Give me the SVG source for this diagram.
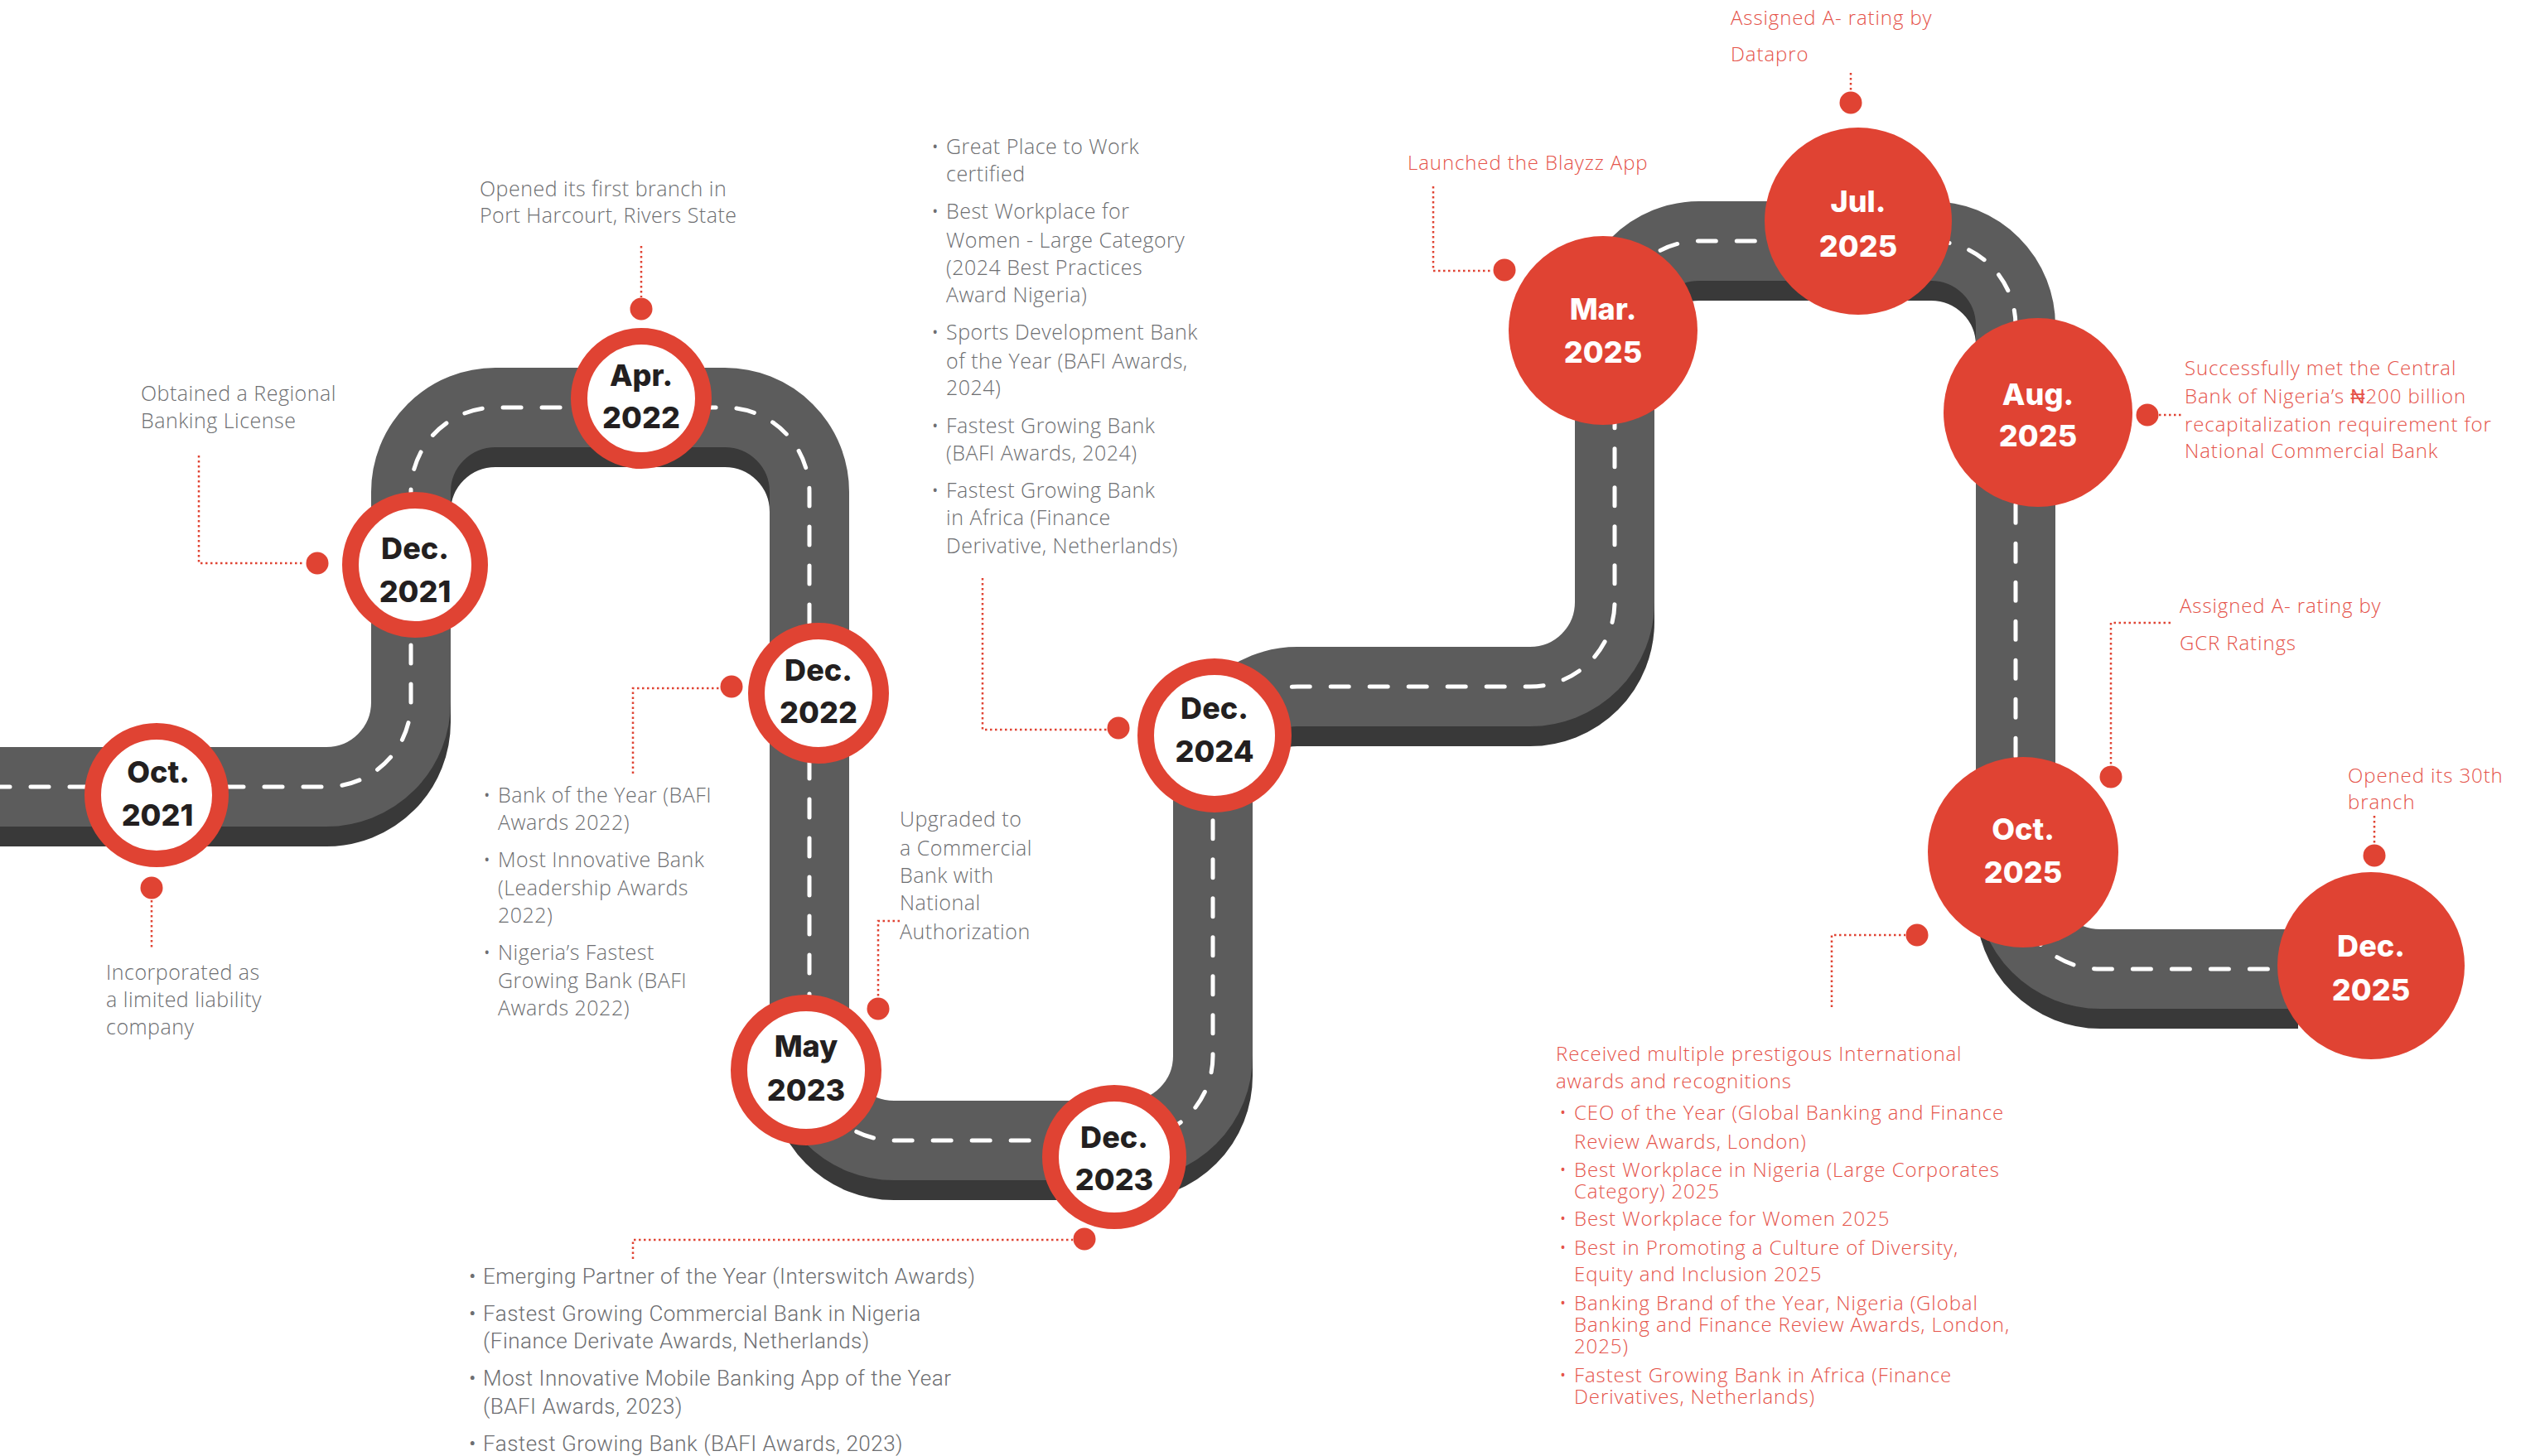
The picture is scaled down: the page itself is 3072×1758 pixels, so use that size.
<svg xmlns="http://www.w3.org/2000/svg" width="3072" height="1758" viewBox="0 0 3072 1758">
<defs>
<style>
.road-shadow{fill:none;stroke:#393939;stroke-width:96}
.road{fill:none;stroke:#5c5c5c;stroke-width:96}
.lane{fill:none;stroke:#ffffff;stroke-width:5;stroke-dasharray:22 25;stroke-linecap:round}
.ring{fill:#ffffff;stroke:#e04333;stroke-width:20}
.solid{fill:#e04333}
.date{font-family:Inter,"Open Sans","Liberation Sans",sans-serif;font-weight:800;font-size:36px;text-anchor:middle}
.dark{fill:#231f20}
.light{fill:#ffffff}
.desc{font-family:"Open Sans","Liberation Sans",sans-serif;font-weight:300;font-size:25px;letter-spacing:0.5px;fill:#6d6e71}
.narrow{font-family:Roboto,"Liberation Sans",sans-serif;font-weight:300;font-size:26px;letter-spacing:0.5px;fill:#6d6e71}
.red{font-family:"Open Sans","Liberation Sans",sans-serif;font-weight:300;font-size:24px;letter-spacing:0.9px;fill:#e5534a}
.lead{fill:none;stroke:#e04333;stroke-width:2.5;stroke-dasharray:2.5 3.5}
.pin{fill:#e04333}
</style>
<path id="roadPath" d="M -10 950 H 394 A 102 102 0 0 0 496 848 V 594 A 102 102 0 0 1 598 492 H 875 A 102 102 0 0 1 977 594 V 1275 A 102 102 0 0 0 1079 1377 H 1362 A 102 102 0 0 0 1464 1275 V 931 A 102 102 0 0 1 1566 829 H 1847 A 102 102 0 0 0 1949 727 V 393 A 102 102 0 0 1 2051 291 H 2331 A 102 102 0 0 1 2433 393 V 1068 A 102 102 0 0 0 2535 1170 H 2774"/>
</defs>
<rect width="3072" height="1758" fill="#ffffff"/>

<g id="road">
<use href="#roadPath" class="road-shadow" transform="translate(0,24)"/>
<use href="#roadPath" class="road"/>
<use href="#roadPath" class="lane"/>
</g>

<g id="connectors">
<line class="lead" x1="183" y1="1087" x2="183" y2="1147"/>
<circle class="pin" cx="183" cy="1072" r="13.5"/>
<polyline class="lead" points="240,550 240,680 368,680"/>
<circle class="pin" cx="383" cy="680" r="13.5"/>
<line class="lead" x1="774" y1="297" x2="774" y2="359"/>
<circle class="pin" cx="774" cy="373" r="13.5"/>
<polyline class="lead" points="764,934 764,831 868,831"/>
<circle class="pin" cx="883" cy="829" r="13.5"/>
<polyline class="lead" points="1086,1112 1060,1112 1060,1204"/>
<circle class="pin" cx="1060" cy="1218" r="13.5"/>
<polyline class="lead" points="764,1520 764,1497 1295,1497"/>
<circle class="pin" cx="1309" cy="1496" r="13.5"/>
<polyline class="lead" points="1186,698 1186,881 1336,881"/>
<circle class="pin" cx="1350" cy="879" r="13.5"/>
<polyline class="lead" points="1730,225 1730,327 1802,327"/>
<circle class="pin" cx="1816" cy="326" r="13.5"/>
<line class="lead" x1="2234" y1="88" x2="2234" y2="110"/>
<circle class="pin" cx="2234" cy="124" r="13.5"/>
<line class="lead" x1="2606" y1="501" x2="2634" y2="501"/>
<circle class="pin" cx="2592" cy="501" r="13.5"/>
<polyline class="lead" points="2620,752 2548,752 2548,924"/>
<circle class="pin" cx="2548" cy="938" r="13.5"/>
<polyline class="lead" points="2211,1216 2211,1129 2300,1129"/>
<circle class="pin" cx="2314" cy="1129" r="13.5"/>
<line class="lead" x1="2866" y1="985" x2="2866" y2="1019"/>
<circle class="pin" cx="2866" cy="1033" r="13.5"/>
</g>

<g id="node-oct-2021">
<circle class="ring" cx="189" cy="960" r="77"/>
<text class="date dark" x="191" y="945">Oct.</text>
<text class="date dark" x="190" y="997">2021</text>
<text class="desc" x="128" y="1183">Incorporated as</text>
<text class="desc" x="128" y="1216">a limited liability</text>
<text class="desc" x="128" y="1249">company</text>
</g>

<g id="node-dec-2021">
<circle class="ring" cx="501" cy="682" r="78"/>
<text class="date dark" x="501" y="675">Dec.</text>
<text class="date dark" x="501" y="727">2021</text>
<text class="desc" x="170" y="484">Obtained a Regional</text>
<text class="desc" x="170" y="517">Banking License</text>
</g>

<g id="node-apr-2022">
<circle class="ring" cx="774" cy="481" r="75"/>
<text class="date dark" x="774" y="466">Apr.</text>
<text class="date dark" x="774" y="517">2022</text>
<text class="desc" x="579" y="237">Opened its first branch in</text>
<text class="desc" x="579" y="269">Port Harcourt, Rivers State</text>
</g>

<g id="node-dec-2022">
<circle class="ring" cx="988" cy="837" r="75"/>
<text class="date dark" x="988" y="822">Dec.</text>
<text class="date dark" x="988" y="873">2022</text>
<text class="desc" x="583" y="969">•</text>
<text class="desc" x="601" y="969">Bank of the Year (BAFI</text>
<text class="desc" x="601" y="1002">Awards 2022)</text>
<text class="desc" x="583" y="1047">•</text>
<text class="desc" x="601" y="1047">Most Innovative Bank</text>
<text class="desc" x="601" y="1081">(Leadership Awards</text>
<text class="desc" x="601" y="1114">2022)</text>
<text class="desc" x="583" y="1159">•</text>
<text class="desc" x="601" y="1159">Nigeria’s Fastest</text>
<text class="desc" x="601" y="1193">Growing Bank (BAFI</text>
<text class="desc" x="601" y="1226">Awards 2022)</text>
</g>

<g id="node-may-2023">
<circle class="ring" cx="973" cy="1292" r="81"/>
<text class="date dark" x="973" y="1276">May</text>
<text class="date dark" x="973" y="1329">2023</text>
<text class="desc" x="1086" y="998">Upgraded to</text>
<text class="desc" x="1086" y="1033">a Commercial</text>
<text class="desc" x="1086" y="1066">Bank with</text>
<text class="desc" x="1086" y="1099">National</text>
<text class="desc" x="1086" y="1134">Authorization</text>
</g>

<g id="node-dec-2023">
<circle class="ring" cx="1345" cy="1397" r="77"/>
<text class="date dark" x="1345" y="1386">Dec.</text>
<text class="date dark" x="1345" y="1437">2023</text>
<text class="narrow" x="566" y="1550">•</text>
<text class="narrow" x="583" y="1550">Emerging Partner of the Year (Interswitch Awards)</text>
<text class="narrow" x="566" y="1595">•</text>
<text class="narrow" x="583" y="1595">Fastest Growing Commercial Bank in Nigeria</text>
<text class="narrow" x="583" y="1628">(Finance Derivate Awards, Netherlands)</text>
<text class="narrow" x="566" y="1673">•</text>
<text class="narrow" x="583" y="1673">Most Innovative Mobile Banking App of the Year</text>
<text class="narrow" x="583" y="1707">(BAFI Awards, 2023)</text>
<text class="narrow" x="566" y="1752">•</text>
<text class="narrow" x="583" y="1752">Fastest Growing Bank (BAFI Awards, 2023)</text>
</g>

<g id="node-dec-2024">
<circle class="ring" cx="1466" cy="888" r="83"/>
<text class="date dark" x="1466" y="868">Dec.</text>
<text class="date dark" x="1466" y="920">2024</text>
<text class="desc" x="1124" y="186">•</text>
<text class="desc" x="1142" y="186">Great Place to Work</text>
<text class="desc" x="1142" y="219">certified</text>
<text class="desc" x="1124" y="264">•</text>
<text class="desc" x="1142" y="264">Best Workplace for</text>
<text class="desc" x="1142" y="299">Women - Large Category</text>
<text class="desc" x="1142" y="332">(2024 Best Practices</text>
<text class="desc" x="1142" y="365">Award Nigeria)</text>
<text class="desc" x="1124" y="410">•</text>
<text class="desc" x="1142" y="410">Sports Development Bank</text>
<text class="desc" x="1142" y="445">of the Year (BAFI Awards,</text>
<text class="desc" x="1142" y="477">2024)</text>
<text class="desc" x="1124" y="523">•</text>
<text class="desc" x="1142" y="523">Fastest Growing Bank</text>
<text class="desc" x="1142" y="556">(BAFI Awards, 2024)</text>
<text class="desc" x="1124" y="601">•</text>
<text class="desc" x="1142" y="601">Fastest Growing Bank</text>
<text class="desc" x="1142" y="634">in Africa (Finance</text>
<text class="desc" x="1142" y="668">Derivative, Netherlands)</text>
</g>

<g id="node-mar-2025">
<circle class="solid" cx="1935" cy="399" r="114"/>
<text class="date light" x="1935" y="386">Mar.</text>
<text class="date light" x="1935" y="438">2025</text>
<text class="red" x="1699" y="205">Launched the Blayzz App</text>
</g>

<g id="node-jul-2025">
<circle class="solid" cx="2243" cy="267" r="113"/>
<text class="date light" x="2243" y="256">Jul.</text>
<text class="date light" x="2243" y="310">2025</text>
<text class="red" x="2089" y="30">Assigned A- rating by</text>
<text class="red" x="2089" y="74">Datapro</text>
</g>

<g id="node-aug-2025">
<circle class="solid" cx="2460" cy="498" r="114"/>
<text class="date light" x="2460" y="489">Aug.</text>
<text class="date light" x="2460" y="539">2025</text>
<text class="red" x="2637" y="453">Successfully met the Central</text>
<text class="red" x="2637" y="487">Bank of Nigeria’s ₦200 billion</text>
<text class="red" x="2637" y="521">recapitalization requirement for</text>
<text class="red" x="2637" y="553">National Commercial Bank</text>
</g>

<g id="node-oct-2025">
<circle class="solid" cx="2442" cy="1029" r="115"/>
<text class="date light" x="2442" y="1014">Oct.</text>
<text class="date light" x="2442" y="1066">2025</text>
<text class="red" x="2631" y="740">Assigned A- rating by</text>
<text class="red" x="2631" y="785">GCR Ratings</text>
<text class="red" x="1878" y="1281">Received multiple prestigous International</text>
<text class="red" x="1878" y="1314">awards and recognitions</text>
<text class="red" x="1882" y="1352">•</text>
<text class="red" x="1900" y="1352">CEO of the Year (Global Banking and Finance</text>
<text class="red" x="1900" y="1387">Review Awards, London)</text>
<text class="red" x="1882" y="1421">•</text>
<text class="red" x="1900" y="1421">Best Workplace in Nigeria (Large Corporates</text>
<text class="red" x="1900" y="1447">Category) 2025</text>
<text class="red" x="1882" y="1480">•</text>
<text class="red" x="1900" y="1480">Best Workplace for Women 2025</text>
<text class="red" x="1882" y="1515">•</text>
<text class="red" x="1900" y="1515">Best in Promoting a Culture of Diversity,</text>
<text class="red" x="1900" y="1547">Equity and Inclusion 2025</text>
<text class="red" x="1882" y="1582">•</text>
<text class="red" x="1900" y="1582">Banking Brand of the Year, Nigeria (Global</text>
<text class="red" x="1900" y="1608">Banking and Finance Review Awards, London,</text>
<text class="red" x="1900" y="1634">2025)</text>
<text class="red" x="1882" y="1669">•</text>
<text class="red" x="1900" y="1669">Fastest Growing Bank in Africa (Finance</text>
<text class="red" x="1900" y="1695">Derivatives, Netherlands)</text>
</g>

<g id="node-dec-2025">
<circle class="solid" cx="2862" cy="1166" r="113"/>
<text class="date light" x="2862" y="1155">Dec.</text>
<text class="date light" x="2862" y="1208">2025</text>
<text class="red" x="2834" y="945">Opened its 30th</text>
<text class="red" x="2834" y="977">branch</text>
</g>
</svg>
